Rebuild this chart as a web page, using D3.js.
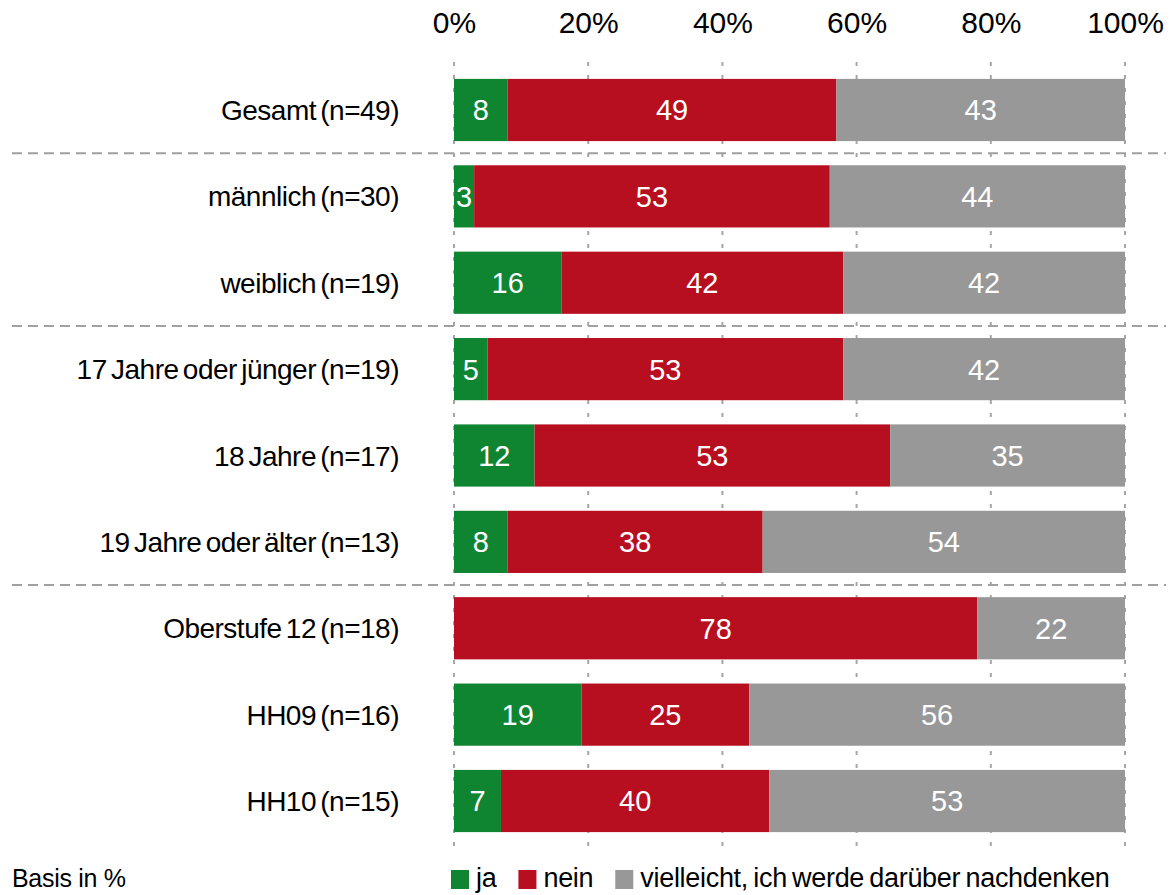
<!DOCTYPE html>
<html lang="de">
<head>
  <meta charset="UTF-8">
  <title>Stacked bars</title>
  <style>
    body { margin: 0; background: #fff; }
    text { font-family: "Liberation Sans", Arial, sans-serif; }
  </style>
</head>
<body>
  <svg id="chart" width="1172" height="895"></svg>
  <script src="https://d3js.org/d3.v7.min.js"></script>
  <script>
    // data
    var categories = ["Gesamt (n=49)", "männlich (n=30)", "weiblich (n=19)",
      "17 Jahre oder jünger (n=19)", "18 Jahre (n=17)", "19 Jahre oder älter (n=13)",
      "Oberstufe 12 (n=18)", "HH09 (n=16)", "HH10 (n=15)"];
    var ja = [8, 3, 16, 5, 12, 8, 0, 19, 7];
    var nein = [49, 53, 42, 53, 53, 38, 78, 25, 40];
    var vielleicht = [43, 44, 42, 42, 35, 54, 22, 56, 53];
    var seriesNames = ["ja", "nein", "vielleicht, ich werde darüber nachdenken"];
    var tickValues = [0, 20, 40, 60, 80, 100];
    var groupBreaks = ["männlich (n=30)", "17 Jahre oder jünger (n=19)", "Oberstufe 12 (n=18)"]; // dashed line above these

    var colors = ["#0f8431", "#b80f20", "#989898"];

    var svg = d3.select("#chart");

    var x = d3.scaleLinear().domain([0, 100]).range([454, 1125]);
    var y = d3.scaleBand().domain(categories).range([66.8, 844.2])
      .paddingInner(0.28).paddingOuter(0.14);

    var rows = categories.map(function(c, i) {
      return { cat: c, ja: ja[i], nein: nein[i], vielleicht: vielleicht[i] };
    });
    var stack = d3.stack().keys(["ja", "nein", "vielleicht"]);
    var layers = stack(rows);

    // vertical dotted grid
    svg.append("g").selectAll("line")
      .data(tickValues).enter().append("line")
      .attr("x1", d => x(d)).attr("x2", d => x(d))
      .attr("y1", 62).attr("y2", 848)
      .attr("stroke", "#a6a6a6").attr("stroke-width", 2)
      .attr("stroke-dasharray", "4,9");

    // top axis labels
    var axis = d3.axisTop(x).tickValues(tickValues).tickFormat(d => d + "%").tickSize(0);
    var ax = svg.append("g").attr("transform", "translate(0,36)").call(axis);
    ax.select(".domain").remove();
    ax.selectAll("text").attr("font-size", 30).attr("fill", "#000").attr("dy", 0)
      .attr("font-family", "Liberation Sans, Arial, sans-serif");

    // bars
    var g = svg.append("g").selectAll("g")
      .data(layers).enter().append("g")
      .attr("fill", (d, i) => colors[i]);
    g.selectAll("rect")
      .data(d => d).enter().append("rect")
      .attr("x", d => x(d[0]))
      .attr("width", d => x(d[1]) - x(d[0]))
      .attr("y", d => y(d.data.cat))
      .attr("height", y.bandwidth());

    // value labels
    layers.forEach(function(layer) {
      svg.append("g").selectAll("text")
        .data(layer.filter(d => d[1] - d[0] > 0)).enter().append("text")
        .attr("x", d => (x(d[0]) + x(d[1])) / 2)
        .attr("y", d => y(d.data.cat) + y.bandwidth() / 2)
        .attr("dy", "0.36em")
        .attr("text-anchor", "middle")
        .attr("font-size", 29)
        .attr("fill", "#fff")
        .text(d => d[1] - d[0]);
    });

    // category labels
    svg.append("g").selectAll("text")
      .data(categories).enter().append("text")
      .attr("x", 399)
      .attr("y", d => y(d) + y.bandwidth() / 2)
      .attr("dy", "0.36em")
      .attr("text-anchor", "end")
      .attr("font-size", 28)
      .attr("letter-spacing", -0.5)
      .attr("word-spacing", -3)
      .attr("fill", "#000")
      .text(d => d);

    // group separators
    svg.append("g").selectAll("line")
      .data(groupBreaks).enter().append("line")
      .attr("x1", 12).attr("x2", 1166)
      .attr("y1", d => y(d) - y.step() * y.paddingInner() / 2)
      .attr("y2", d => y(d) - y.step() * y.paddingInner() / 2)
      .attr("stroke", "#a0a0a0").attr("stroke-width", 2)
      .attr("stroke-dasharray", "10,6");

    // footer
    svg.append("text")
      .attr("x", 12).attr("y", 887)
      .attr("font-size", 25)
      .attr("letter-spacing", -0.3)
      .attr("fill", "#000")
      .text("Basis in %");

    var legend = svg.append("g");
    var lx = 451;
    seriesNames.forEach(function(name, i) {
      legend.append("rect")
        .attr("x", lx).attr("y", 870).attr("width", 18).attr("height", 19)
        .attr("fill", colors[i]);
      var t = legend.append("text")
        .attr("x", lx + 25).attr("y", 887)
        .attr("font-size", 27)
        .attr("letter-spacing", -0.3)
        .attr("word-spacing", -2)
        .attr("fill", "#000")
        .text(name);
      lx += 25 + t.node().getComputedTextLength() + 22;
    });
  </script>
</body>
</html>
